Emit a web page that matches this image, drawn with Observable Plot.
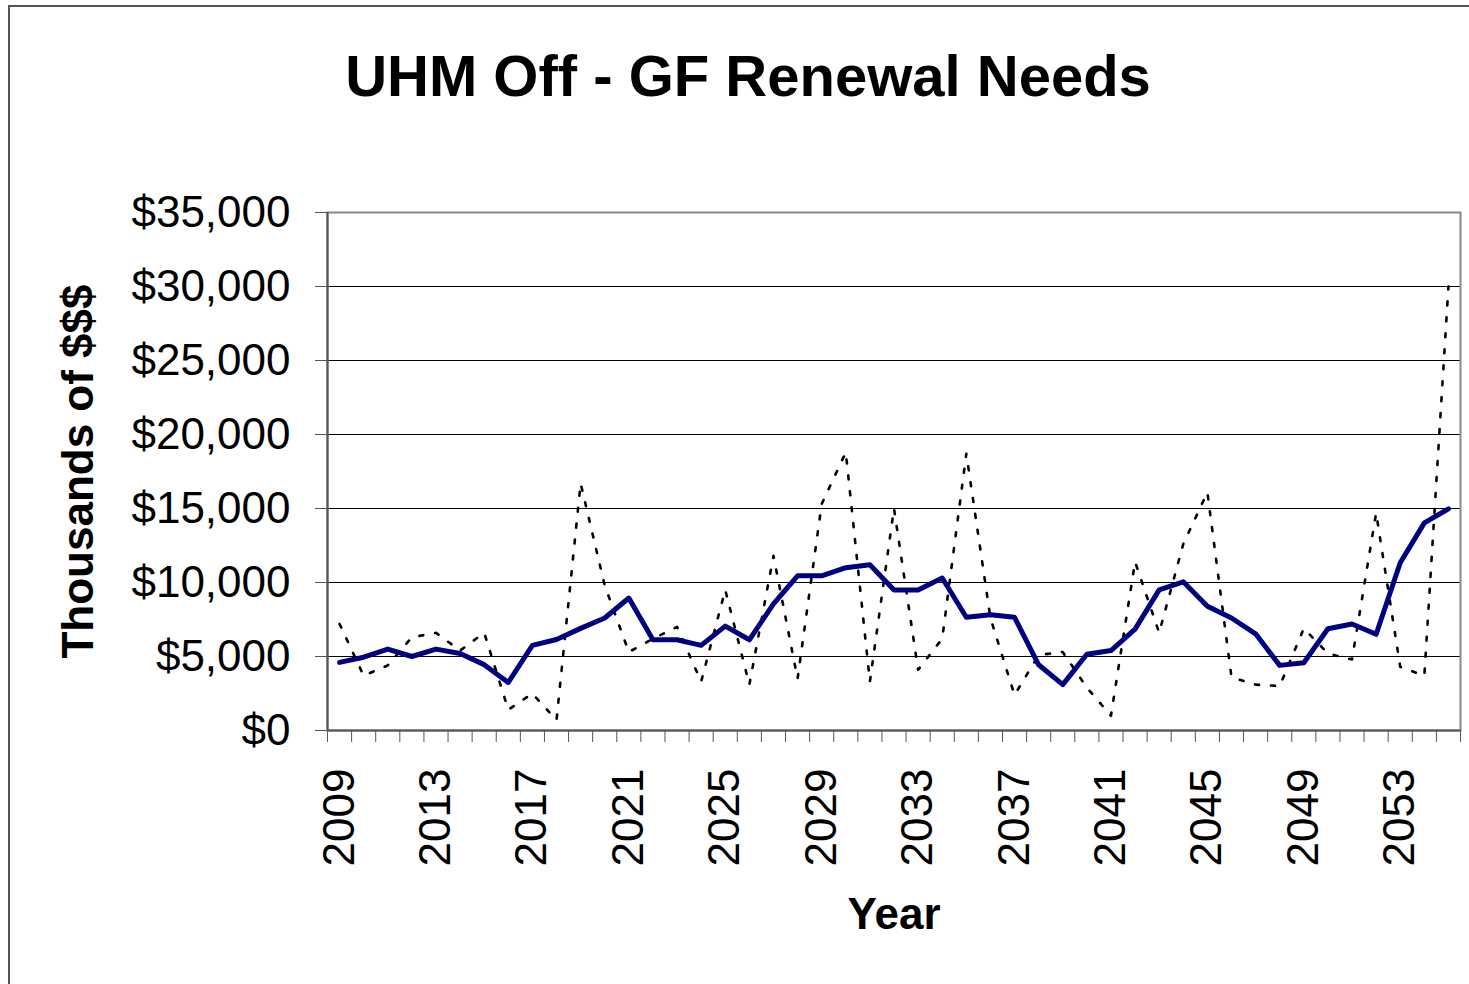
<!DOCTYPE html>
<html><head><meta charset="utf-8">
<script src="https://cdn.jsdelivr.net/npm/d3@7"></script>
<script src="https://cdn.jsdelivr.net/npm/@observablehq/plot@0.6"></script>
<style>
html,body{margin:0;padding:0;background:#fff;overflow:hidden;width:1469px;height:984px;}
#frame{position:absolute;left:8px;top:5px;width:1500px;height:1000px;border-left:2px solid #555;border-top:2px solid #555;}
#title{position:absolute;left:0;width:1496px;top:42px;line-height:58px;text-align:center;font:bold 58px "Liberation Sans",Arial,Helvetica,sans-serif;color:#000;}
#chart{position:absolute;left:0;top:0;}
</style></head>
<body>
<div id="frame"></div>
<div id="title">UHM Off - GF Renewal Needs</div>
<div id="chart"></div>
<script>
// Categories (years)
const years = [2009,2010,2011,2012,2013,2014,2015,2016,2017,2018,2019,2020,2021,2022,2023,2024,
  2025,2026,2027,2028,2029,2030,2031,2032,2033,2034,2035,2036,2037,2038,2039,2040,
  2041,2042,2043,2044,2045,2046,2047,2048,2049,2050,2051,2052,2053,2054,2055];
// Solid navy series (thousands of $)
const avgNeeds = [4600,4950,5500,5000,5500,5200,4450,3250,5750,6150,6900,7600,8950,6130,6130,5750,
  7050,6130,8550,10450,10450,11000,11200,9500,9500,10300,7650,7820,7650,4440,3100,5150,
  5400,6850,9500,10050,8400,7600,6530,4400,4580,6870,7200,6500,11330,14030,14980];
// Dotted black series (thousands of $)
const annualNeeds = [7200,3700,4400,6300,6600,5400,6600,1400,2500,700,16700,9800,5300,6200,7000,3300,
  9500,3100,11800,3500,15300,18800,3300,15000,4100,6200,18700,7600,2400,5100,5300,2900,
  1000,11400,6600,12600,16100,3600,3100,3000,6900,5200,4800,14700,4300,3700,30000];
// Tick labels
const yTicks = [0,5000,10000,15000,20000,25000,30000,35000];
const xLabelYears = [2009,2013,2017,2021,2025,2029,2033,2037,2041,2045,2049,2053];

const data = years.map((y,i)=>({year:y, avg:avgNeeds[i], annual:annualNeeds[i]}));
const boundaries = years.map(y=>y-0.5).concat([years[years.length-1]+0.5]);
const font = '"Liberation Sans", Arial, Helvetica, sans-serif';

const plot = Plot.plot({
  width:1469, height:984,
  marginLeft:327, marginRight:9, marginTop:212, marginBottom:254,
  style:{fontFamily:font, fontSize:"44px", color:"#000", background:"transparent", overflow:"visible"},
  x:{domain:[boundaries[0], boundaries[boundaries.length-1]]},
  y:{domain:[0,35000]},
  marks:[
    Plot.ruleY(yTicks.slice(1,-1), {stroke:"#000", strokeWidth:1}),
    Plot.frame({stroke:"#888", strokeWidth:2}),
    Plot.ruleX([boundaries[0]], {stroke:"#555", strokeWidth:2}),
    Plot.ruleY([0], {stroke:"#555", strokeWidth:2}),
    Plot.axisY({ticks:yTicks, tickFormat:d=>"$"+d3.format(",")(d), tickSize:12, tickPadding:25, label:null, fontSize:44, stroke:"#555"}),
    Plot.axisX({ticks:boundaries, tickSize:12, tickFormat:()=>"", label:null, stroke:"#555"}),
    Plot.axisX({ticks:xLabelYears, tickSize:0, tickRotate:-90, tickPadding:38, tickFormat:d=>String(d), label:null, fontSize:44}),
    Plot.line(data,{x:"year", y:"annual", stroke:"#000", strokeWidth:2.6, strokeDasharray:"4,12"}),
    Plot.line(data,{x:"year", y:"avg", stroke:"#000080", strokeWidth:5, strokeLinejoin:"round"}),
    Plot.text(["Thousands of $$$"],{text:d=>d, frameAnchor:"left", textAnchor:"middle", dx:-249, rotate:-90, fontWeight:"bold", fontSize:44}),
    Plot.text(["Year"],{text:d=>d, frameAnchor:"bottom", dy:198, fontWeight:"bold", fontSize:44})
  ]
});
document.getElementById("chart").appendChild(plot);
</script>
</body></html>
